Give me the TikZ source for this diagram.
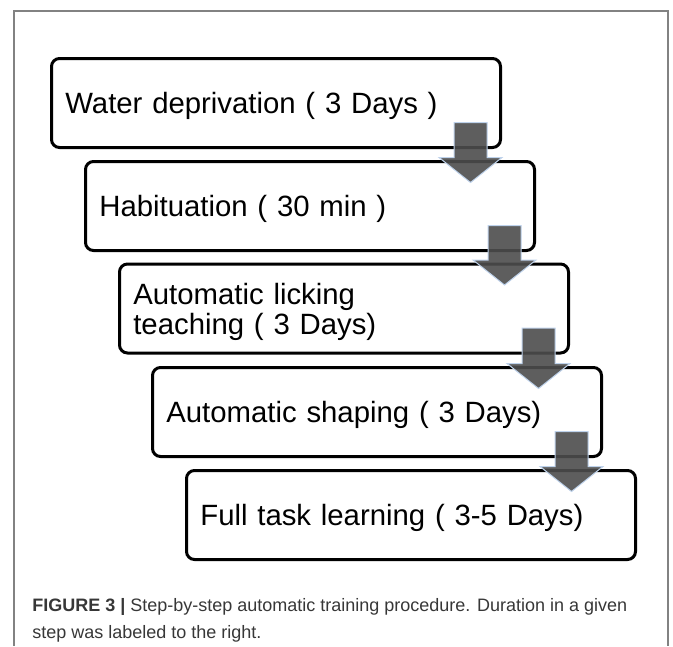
\documentclass[tikz,border=0pt]{standalone}
\usepackage{fontspec}
\setmainfont{Liberation Sans}
\usetikzlibrary{calc}

\tikzset{
  stepbox/.style={draw, line width=2.25pt, rounded corners=6pt, outer sep=0pt,
    minimum width=336.75pt, minimum height=66.75pt, inner xsep=9.75pt,
    text width=316pt, text depth=0pt, align=left, font=\fontsize{22}{22.5}\selectfont},
  steparrow/.style={draw={rgb,255:red,190;green,210;blue,235}, line width=0.75pt,
    fill={rgb,255:red,77;green,77;blue,77}, fill opacity=0.9},
  captext/.style={anchor=base west, inner sep=0pt,
    font=\fontsize{13.5}{20.25}\selectfont, text={rgb,255:red,55;green,55;blue,55}}
}

% block arrow from the lower right corner of #1 into the top of #2
\newcommand{\steparrow}[2]{%
  \coordinate (top) at ($(#1.south east)+(-30,-25)$);
  \coordinate (wing) at ($(#2.north)+(0,-4)$);
  \coordinate (wl) at (top |- wing);
  \draw[steparrow] ($(top)+(-16.5,0)$) -- ($(top)+(16.5,0)$) -- ($(wl)+(16.5,0)$) -- ($(wl)+(31.5,0)$) -- ($(wl)+(0,25)$) -- ($(wl)+(-31.5,0)$) -- ($(wl)+(-16.5,0)$) -- cycle ;
}

\begin{document}
\begin{tikzpicture}[x=0.75pt,y=0.75pt,yscale=-1,xscale=1]
\useasboundingbox (0,0) rectangle (673,646);

%Shape: Frame
\draw [color={rgb,255:red,130;green,130;blue,130}, line width=1.1pt]  (14,646) -- (14,11) -- (668,11) -- (668,646) ;

%Shape: Rounded Rect
\node [stepbox] (water) at (276,103) {Water deprivation ( 3 Days )};
%Shape: Rounded Rect
\node [stepbox] (habit) at (310,206) {Habituation ( 30 min )};
%Shape: Rounded Rect
\node [stepbox, text depth=22.5pt] (lick) at (344,308.5) {Automatic licking\\teaching ( 3 Days)};
%Shape: Rounded Rect
\node [stepbox] (shape) at (377,412) {Automatic shaping ( 3 Days)};
%Shape: Rounded Rect
\node [stepbox] (full) at (411,515) {Full task learning ( 3-5 Days)};

%Block Arrows
\steparrow{water}{habit}
\steparrow{habit}{lick}
\steparrow{lick}{shape}
\steparrow{shape}{full}

% Text Node
\node [captext] (cap1) at (32,611) {\textbf{FIGURE 3 |} Step-by-step automatic training procedure. Duration in a given};
% Text Node
\node [captext] (cap2) at (32,638) {step was labeled to the right.};

\end{tikzpicture}
\end{document}
